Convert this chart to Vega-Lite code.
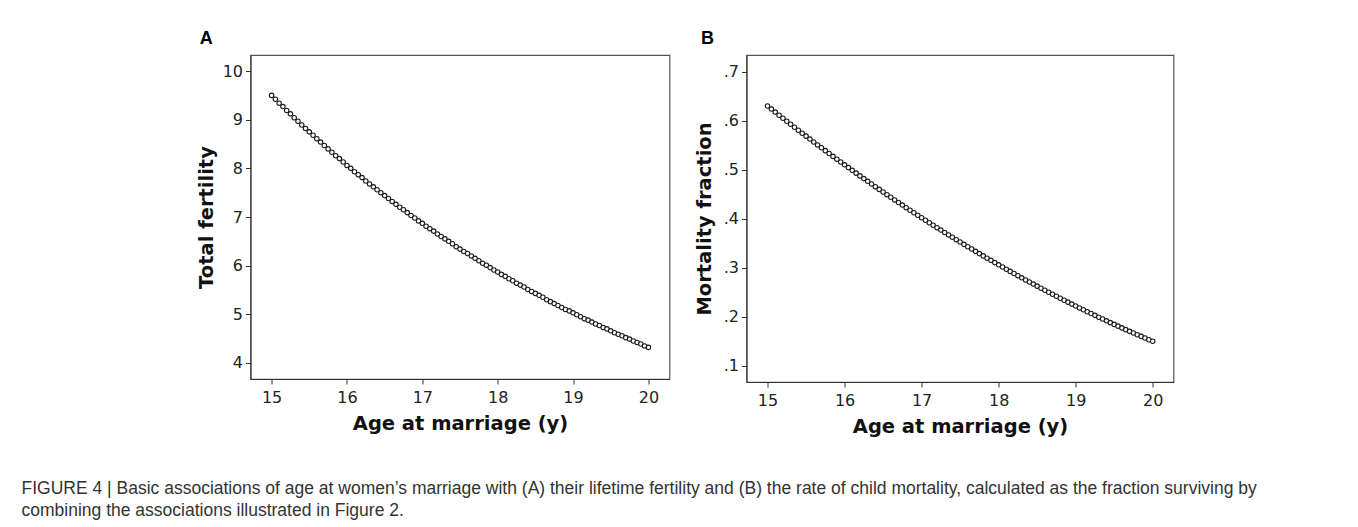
{
  "$schema": "https://vega.github.io/schema/vega-lite/v6.json",
  "padding": {"left": 21.5, "top": 29, "right": 5, "bottom": 5},
  "background": "white",
  "datasets": {
    "d": [
      {"age": 15.00, "fert": 9.50, "mort": 0.6300},
      {"age": 15.05, "fert": 9.42, "mort": 0.6237},
      {"age": 15.10, "fert": 9.34, "mort": 0.6175},
      {"age": 15.15, "fert": 9.27, "mort": 0.6112},
      {"age": 15.20, "fert": 9.19, "mort": 0.6050},
      {"age": 15.25, "fert": 9.12, "mort": 0.5989},
      {"age": 15.30, "fert": 9.04, "mort": 0.5927},
      {"age": 15.35, "fert": 8.97, "mort": 0.5866},
      {"age": 15.40, "fert": 8.89, "mort": 0.5806},
      {"age": 15.45, "fert": 8.82, "mort": 0.5745},
      {"age": 15.50, "fert": 8.75, "mort": 0.5685},
      {"age": 15.55, "fert": 8.68, "mort": 0.5625},
      {"age": 15.60, "fert": 8.61, "mort": 0.5566},
      {"age": 15.65, "fert": 8.54, "mort": 0.5506},
      {"age": 15.70, "fert": 8.47, "mort": 0.5447},
      {"age": 15.75, "fert": 8.40, "mort": 0.5389},
      {"age": 15.80, "fert": 8.33, "mort": 0.5330},
      {"age": 15.85, "fert": 8.26, "mort": 0.5272},
      {"age": 15.90, "fert": 8.20, "mort": 0.5215},
      {"age": 15.95, "fert": 8.13, "mort": 0.5157},
      {"age": 16.00, "fert": 8.06, "mort": 0.5100},
      {"age": 16.05, "fert": 8.00, "mort": 0.5043},
      {"age": 16.10, "fert": 7.93, "mort": 0.4987},
      {"age": 16.15, "fert": 7.87, "mort": 0.4930},
      {"age": 16.20, "fert": 7.81, "mort": 0.4874},
      {"age": 16.25, "fert": 7.74, "mort": 0.4819},
      {"age": 16.30, "fert": 7.68, "mort": 0.4763},
      {"age": 16.35, "fert": 7.62, "mort": 0.4708},
      {"age": 16.40, "fert": 7.56, "mort": 0.4654},
      {"age": 16.45, "fert": 7.50, "mort": 0.4599},
      {"age": 16.50, "fert": 7.44, "mort": 0.4545},
      {"age": 16.55, "fert": 7.38, "mort": 0.4491},
      {"age": 16.60, "fert": 7.32, "mort": 0.4438},
      {"age": 16.65, "fert": 7.26, "mort": 0.4384},
      {"age": 16.70, "fert": 7.20, "mort": 0.4331},
      {"age": 16.75, "fert": 7.15, "mort": 0.4279},
      {"age": 16.80, "fert": 7.09, "mort": 0.4226},
      {"age": 16.85, "fert": 7.03, "mort": 0.4174},
      {"age": 16.90, "fert": 6.98, "mort": 0.4123},
      {"age": 16.95, "fert": 6.92, "mort": 0.4071},
      {"age": 17.00, "fert": 6.87, "mort": 0.4020},
      {"age": 17.05, "fert": 6.81, "mort": 0.3969},
      {"age": 17.10, "fert": 6.76, "mort": 0.3919},
      {"age": 17.15, "fert": 6.71, "mort": 0.3868},
      {"age": 17.20, "fert": 6.65, "mort": 0.3818},
      {"age": 17.25, "fert": 6.60, "mort": 0.3769},
      {"age": 17.30, "fert": 6.55, "mort": 0.3719},
      {"age": 17.35, "fert": 6.50, "mort": 0.3670},
      {"age": 17.40, "fert": 6.45, "mort": 0.3622},
      {"age": 17.45, "fert": 6.39, "mort": 0.3573},
      {"age": 17.50, "fert": 6.34, "mort": 0.3525},
      {"age": 17.55, "fert": 6.29, "mort": 0.3477},
      {"age": 17.60, "fert": 6.25, "mort": 0.3430},
      {"age": 17.65, "fert": 6.20, "mort": 0.3382},
      {"age": 17.70, "fert": 6.15, "mort": 0.3335},
      {"age": 17.75, "fert": 6.10, "mort": 0.3289},
      {"age": 17.80, "fert": 6.05, "mort": 0.3242},
      {"age": 17.85, "fert": 6.01, "mort": 0.3196},
      {"age": 17.90, "fert": 5.96, "mort": 0.3151},
      {"age": 17.95, "fert": 5.91, "mort": 0.3105},
      {"age": 18.00, "fert": 5.87, "mort": 0.3060},
      {"age": 18.05, "fert": 5.82, "mort": 0.3015},
      {"age": 18.10, "fert": 5.78, "mort": 0.2971},
      {"age": 18.15, "fert": 5.73, "mort": 0.2926},
      {"age": 18.20, "fert": 5.69, "mort": 0.2882},
      {"age": 18.25, "fert": 5.64, "mort": 0.2839},
      {"age": 18.30, "fert": 5.60, "mort": 0.2795},
      {"age": 18.35, "fert": 5.56, "mort": 0.2752},
      {"age": 18.40, "fert": 5.51, "mort": 0.2710},
      {"age": 18.45, "fert": 5.47, "mort": 0.2667},
      {"age": 18.50, "fert": 5.43, "mort": 0.2625},
      {"age": 18.55, "fert": 5.39, "mort": 0.2583},
      {"age": 18.60, "fert": 5.35, "mort": 0.2542},
      {"age": 18.65, "fert": 5.30, "mort": 0.2500},
      {"age": 18.70, "fert": 5.26, "mort": 0.2459},
      {"age": 18.75, "fert": 5.22, "mort": 0.2419},
      {"age": 18.80, "fert": 5.18, "mort": 0.2378},
      {"age": 18.85, "fert": 5.14, "mort": 0.2338},
      {"age": 18.90, "fert": 5.10, "mort": 0.2299},
      {"age": 18.95, "fert": 5.07, "mort": 0.2259},
      {"age": 19.00, "fert": 5.03, "mort": 0.2220},
      {"age": 19.05, "fert": 4.99, "mort": 0.2181},
      {"age": 19.10, "fert": 4.95, "mort": 0.2143},
      {"age": 19.15, "fert": 4.91, "mort": 0.2104},
      {"age": 19.20, "fert": 4.88, "mort": 0.2066},
      {"age": 19.25, "fert": 4.84, "mort": 0.2029},
      {"age": 19.30, "fert": 4.80, "mort": 0.1991},
      {"age": 19.35, "fert": 4.77, "mort": 0.1954},
      {"age": 19.40, "fert": 4.73, "mort": 0.1918},
      {"age": 19.45, "fert": 4.70, "mort": 0.1881},
      {"age": 19.50, "fert": 4.66, "mort": 0.1845},
      {"age": 19.55, "fert": 4.62, "mort": 0.1809},
      {"age": 19.60, "fert": 4.59, "mort": 0.1774},
      {"age": 19.65, "fert": 4.56, "mort": 0.1738},
      {"age": 19.70, "fert": 4.52, "mort": 0.1703},
      {"age": 19.75, "fert": 4.49, "mort": 0.1669},
      {"age": 19.80, "fert": 4.45, "mort": 0.1634},
      {"age": 19.85, "fert": 4.42, "mort": 0.1600},
      {"age": 19.90, "fert": 4.39, "mort": 0.1567},
      {"age": 19.95, "fert": 4.35, "mort": 0.1533},
      {"age": 20.00, "fert": 4.32, "mort": 0.1500}
    ]
  },
  "title": {
    "text": [
      "FIGURE 4 | Basic associations of age at women’s marriage with (A) their lifetime fertility and (B) the rate of child mortality, calculated as the fraction surviving by",
      "combining the associations illustrated in Figure 2."
    ],
    "orient": "bottom",
    "anchor": "start",
    "frame": "bounds",
    "dx": -174,
    "offset": 44,
    "baseline": "top",
    "font": "Liberation Sans",
    "fontSize": 17.5,
    "fontWeight": "normal",
    "color": "#333333",
    "lineHeight": 21.5
  },
  "spacing": 23,
  "hconcat": [
    {
      "width": 419,
      "height": 324,
      "title": {"text": "A", "anchor": "start", "frame": "bounds", "dx": 3.5, "offset": -7, "baseline": "alphabetic", "font": "Liberation Sans", "fontSize": 18, "fontWeight": "bold", "color": "#000000"},
      "data": {"name": "d"},
      "mark": {"type": "point", "shape": "circle", "filled": false, "fill": "white", "stroke": "#1a1a1a", "strokeWidth": 1.1, "size": 20, "opacity": 1},
      "encoding": {
        "x": {
          "field": "age", "type": "quantitative",
          "scale": {"domain": [14.72, 20.28], "nice": false, "zero": false},
          "axis": {"values": [15, 16, 17, 18, 19, 20], "title": "Age at marriage (y)"}
        },
        "y": {
          "field": "fert", "type": "quantitative",
          "scale": {"domain": [3.67, 10.33], "nice": false, "zero": false},
          "axis": {"values": [4, 5, 6, 7, 8, 9, 10], "title": "Total fertility", "titlePadding": 6}
        }
      }
    },
    {
      "width": 427,
      "height": 327,
      "title": {"text": "B", "anchor": "start", "frame": "bounds", "dx": 6.7, "offset": -7, "baseline": "alphabetic", "font": "Liberation Sans", "fontSize": 18, "fontWeight": "bold", "color": "#000000"},
      "data": {"name": "d"},
      "mark": {"type": "point", "shape": "circle", "filled": false, "fill": "white", "stroke": "#1a1a1a", "strokeWidth": 1.1, "size": 20, "opacity": 1},
      "encoding": {
        "x": {
          "field": "age", "type": "quantitative",
          "scale": {"domain": [14.727, 20.27], "nice": false, "zero": false},
          "axis": {"values": [15, 16, 17, 18, 19, 20], "title": "Age at marriage (y)"}
        },
        "y": {
          "field": "mort", "type": "quantitative",
          "scale": {"domain": [0.067, 0.734], "nice": false, "zero": false},
          "axis": {"values": [0.1, 0.2, 0.3, 0.4, 0.5, 0.6, 0.7], "labelExpr": "replace(format(datum.value, '.1f'), '0.', '.')", "title": "Mortality fraction", "titlePadding": 9}
        }
      }
    }
  ],
  "config": {
    "view": {"stroke": "#555555", "strokeWidth": 1.2},
    "axis": {
      "grid": false,
      "domainColor": "#333333",
      "domainWidth": 1,
      "tickColor": "#333333",
      "tickSize": 5,
      "labelFont": "DejaVu Sans",
      "labelFontSize": 16,
      "labelColor": "#222222",
      "titleFont": "DejaVu Sans",
      "titleFontSize": 19.5,
      "titleFontWeight": "bold",
      "titleColor": "#111111"
    },
    "axisX": {"labelPadding": 5, "titlePadding": 9, "labelAngle": 0},
    "axisY": {"labelPadding": 3}
  }
}
